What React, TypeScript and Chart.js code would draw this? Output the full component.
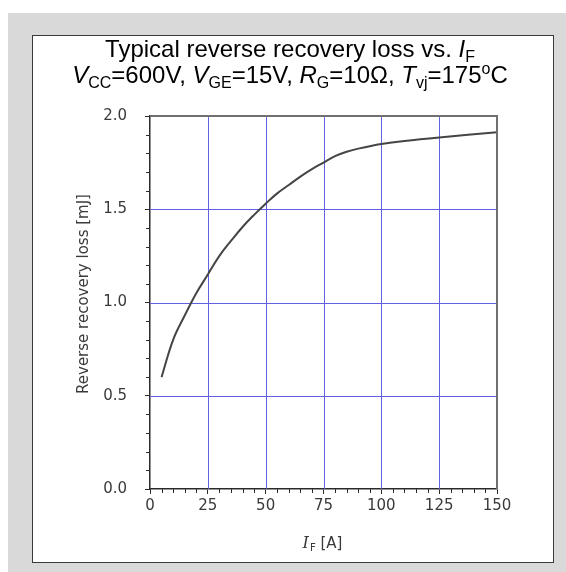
import { useEffect, useRef } from "react";
import { Chart, registerables } from "chart.js";

Chart.register(...registerables);

// Forward current I_F [A] and the matching reverse recovery loss [mJ]
const currentA = [5, 10, 15, 20, 25, 30, 35, 40, 45, 50, 55, 60, 65, 70, 75, 80, 85, 90, 100, 110, 125, 150];
const lossMJ = [0.6, 0.8, 0.93, 1.05, 1.15, 1.25, 1.33, 1.405, 1.47, 1.53, 1.585, 1.63, 1.675, 1.715, 1.75, 1.785, 1.808, 1.825, 1.85, 1.866, 1.885, 1.913];

const xMin = 0;
const xMax = 150;
const xMajorStep = 25;
const xMinorStep = 5;
const yMin = 0;
const yMax = 2;
const yMajorStep = 0.5;
const yMinorStep = 0.1;

type Seg = { t: string; s: "n" | "i" | "sub" | "sup" };

const titleLine1: Seg[] = [
  { t: "Typical reverse recovery loss vs. ", s: "n" },
  { t: "I", s: "i" },
  { t: "F", s: "sub" },
];
const titleLine2: Seg[] = [
  { t: "V", s: "i" },
  { t: "CC", s: "sub" },
  { t: "=600V, ", s: "n" },
  { t: "V", s: "i" },
  { t: "GE", s: "sub" },
  { t: "=15V, ", s: "n" },
  { t: "R", s: "i" },
  { t: "G", s: "sub" },
  { t: "=10Ω, ", s: "n" },
  { t: "T", s: "i" },
  { t: "vj", s: "sub" },
  { t: "=175", s: "n" },
  { t: "o", s: "sup" },
  { t: "C", s: "n" },
];
const yAxisTitle = "Reverse recovery loss [mJ]";

const GRID_BLUE = "#6161e6";
const AXIS_DARK = "#2b2b2b";
const LABEL_GREY = "#3a3a3a";

const TITLE_SIZE = 24;
const SANS = '"Liberation Sans", Arial, sans-serif';

function segFont(s: Seg["s"]): string {
  if (s === "i") return `italic ${TITLE_SIZE}px ${SANS}`;
  if (s === "sub" || s === "sup") return `${Math.round(TITLE_SIZE * 0.65)}px ${SANS}`;
  return `${TITLE_SIZE}px ${SANS}`;
}

function drawRichLine(ctx: CanvasRenderingContext2D, segs: Seg[], cx: number, baseline: number) {
  let total = 0;
  for (const g of segs) {
    ctx.font = segFont(g.s);
    total += ctx.measureText(g.t).width;
  }
  let x = cx - total / 2;
  ctx.textAlign = "left";
  ctx.textBaseline = "alphabetic";
  for (const g of segs) {
    ctx.font = segFont(g.s);
    let dy = 0;
    if (g.s === "sub") dy = TITLE_SIZE * 0.2;
    if (g.s === "sup") dy = -TITLE_SIZE * 0.38;
    ctx.fillText(g.t, x, baseline + dy);
    x += ctx.measureText(g.t).width;
  }
}

const crisp = (p: number) => Math.round(p) + 0.5;

const decorPlugin = {
  id: "decor",
  beforeDatasetsDraw(chart: any) {
    const { ctx, chartArea: a, scales } = chart;
    const xs = scales.x;
    const ys = scales.y;
    ctx.save();
    ctx.strokeStyle = GRID_BLUE;
    ctx.lineWidth = 1;
    ctx.beginPath();
    for (let v = xMin + xMajorStep; v < xMax; v += xMajorStep) {
      const px = crisp(xs.getPixelForValue(v));
      ctx.moveTo(px, a.top);
      ctx.lineTo(px, a.bottom);
    }
    for (let i = 1; i * yMajorStep < yMax - 1e-9; i++) {
      const py = crisp(ys.getPixelForValue(i * yMajorStep));
      ctx.moveTo(a.left, py);
      ctx.lineTo(a.right, py);
    }
    ctx.stroke();
    ctx.restore();
  },
  afterDraw(chart: any) {
    const { ctx, chartArea: a, scales } = chart;
    const xs = scales.x;
    const ys = scales.y;
    ctx.save();

    // top and right frame of the plot
    ctx.strokeStyle = "#707070";
    ctx.lineWidth = 2;
    ctx.beginPath();
    ctx.moveTo(a.left, a.top);
    ctx.lineTo(a.right, a.top);
    ctx.lineTo(a.right, a.bottom);
    ctx.stroke();

    // minor ticks
    ctx.strokeStyle = AXIS_DARK;
    ctx.lineWidth = 1;
    ctx.beginPath();
    for (let i = 1; i * yMinorStep < yMax - 1e-9; i++) {
      const v = i * yMinorStep;
      if (Math.abs(v / yMajorStep - Math.round(v / yMajorStep)) < 1e-6) continue;
      const py = crisp(ys.getPixelForValue(v));
      ctx.moveTo(a.left, py);
      ctx.lineTo(a.left - 4, py);
    }
    for (let v = xMinorStep; v < xMax; v += xMinorStep) {
      if (v % xMajorStep === 0) continue;
      const px = crisp(xs.getPixelForValue(v));
      ctx.moveTo(px, a.bottom);
      ctx.lineTo(px, a.bottom + 4);
    }
    ctx.stroke();

    // chart title
    ctx.fillStyle = "#000";
    drawRichLine(ctx, titleLine1, 290, 57);
    drawRichLine(ctx, titleLine2, 290, 83);

    // y axis title
    ctx.save();
    ctx.translate(84, 294);
    ctx.rotate(-Math.PI / 2);
    ctx.font = '15px "DejaVu Sans", sans-serif';
    ctx.fillStyle = LABEL_GREY;
    ctx.textAlign = "center";
    ctx.textBaseline = "middle";
    ctx.fillText(yAxisTitle, 0, 0);
    ctx.restore();

    // x axis title: I_F [A]
    const cx = (a.left + a.right) / 2 - 1;
    const base = 548;
    const fI = 'italic 16px "DejaVu Serif", serif';
    const fSub = '10px "DejaVu Sans", sans-serif';
    const fRest = '15px "DejaVu Sans", sans-serif';
    ctx.font = fI;
    const wI = ctx.measureText("I").width;
    ctx.font = fSub;
    const wF = ctx.measureText("F").width;
    ctx.font = fRest;
    const wR = ctx.measureText(" [A]").width;
    let x = cx - (wI + wF + 1 + wR) / 2;
    ctx.fillStyle = LABEL_GREY;
    ctx.textAlign = "left";
    ctx.textBaseline = "alphabetic";
    ctx.font = fI;
    ctx.fillText("I", x, base);
    x += wI + 1;
    ctx.font = fSub;
    ctx.fillText("F", x, base + 3);
    x += wF;
    ctx.font = fRest;
    ctx.fillText(" [A]", x, base);

    ctx.restore();
  },
};

export default function App() {
  const canvasRef = useRef<HTMLCanvasElement>(null);

  useEffect(() => {
    const canvas = canvasRef.current;
    if (!canvas) return;
    const tickFont = { family: '"DejaVu Sans", sans-serif', size: 15 };
    const chart = new Chart(canvas, {
      type: "line",
      data: {
        datasets: [
          {
            data: currentA.map((c, i) => ({ x: c, y: lossMJ[i] })),
            borderColor: "#454545",
            borderWidth: 2,
            pointRadius: 0,
            fill: false,
            tension: 0.4,
          },
        ],
      },
      options: {
        responsive: false,
        animation: false,
        devicePixelRatio: 1,
        layout: { padding: { top: 116, right: 69, bottom: 0, left: 0 } },
        plugins: {
          legend: { display: false },
          title: { display: false },
          tooltip: { enabled: false },
        },
        scales: {
          x: {
            type: "linear",
            min: xMin,
            max: xMax,
            afterFit: (s: any) => {
              s.height = 83;
            },
            ticks: {
              stepSize: xMajorStep,
              font: tickFont,
              color: LABEL_GREY,
              padding: 3,
              maxRotation: 0,
            },
            grid: {
              drawOnChartArea: false,
              tickColor: AXIS_DARK,
              tickLength: 5,
              lineWidth: 1,
            },
            border: { display: true, color: AXIS_DARK, width: 1.5 },
          },
          y: {
            type: "linear",
            min: yMin,
            max: yMax,
            afterFit: (s: any) => {
              s.width = 150;
            },
            ticks: {
              stepSize: yMajorStep,
              font: tickFont,
              color: LABEL_GREY,
              padding: 18,
              callback: (v: any) => Number(v).toFixed(1),
            },
            grid: {
              drawOnChartArea: false,
              tickColor: AXIS_DARK,
              tickLength: 5,
              lineWidth: 1,
            },
            border: { display: true, color: AXIS_DARK, width: 1.5 },
          },
        },
      },
      plugins: [decorPlugin],
    });
    return () => chart.destroy();
  }, []);

  return (
    <div style={{ position: "absolute", left: 0, top: 0, width: 566, height: 572, overflow: "hidden" }}>
      <div
        style={{ position: "absolute", left: 8, top: 13, width: 558, height: 559, background: "#d9d9d9" }}
      />
      <div
        style={{
          position: "absolute",
          left: 32,
          top: 35,
          width: 522,
          height: 528,
          background: "#ffffff",
          border: "1px solid #3a3a3a",
          boxSizing: "border-box",
        }}
      />
      <canvas
        ref={canvasRef}
        width={566}
        height={572}
        style={{ position: "absolute", left: 0, top: 0, width: 566, height: 572 }}
      />
    </div>
  );
}
